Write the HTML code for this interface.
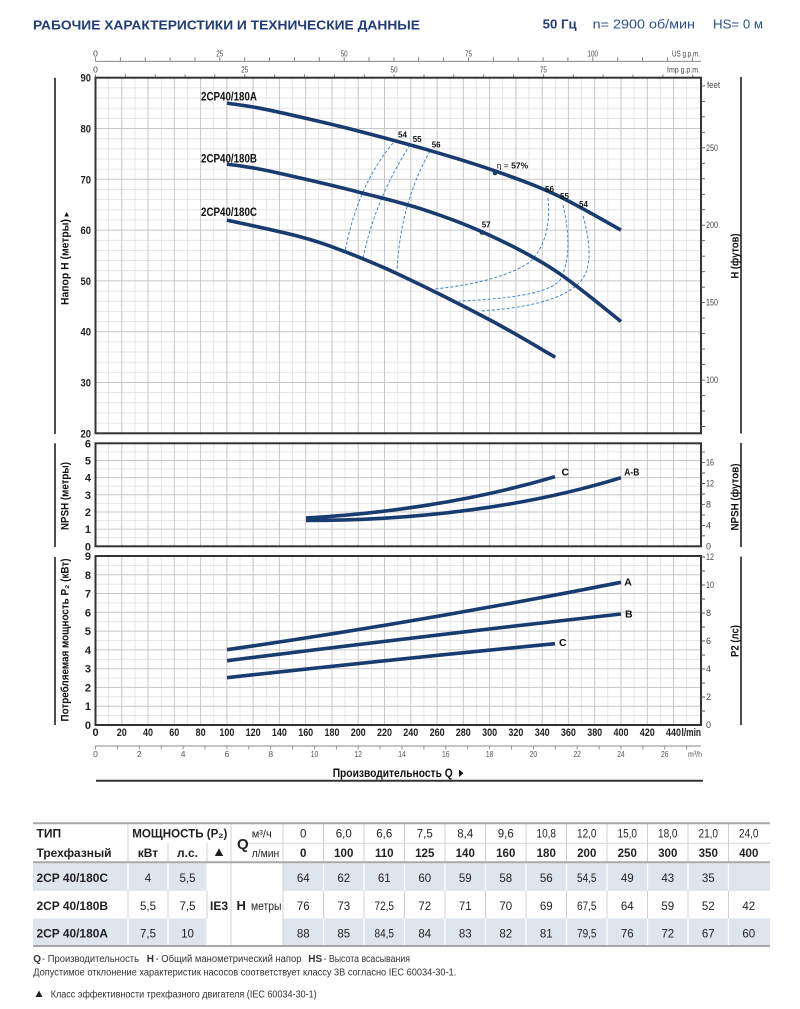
<!DOCTYPE html>
<html><head><meta charset="utf-8">
<style>
html,body{margin:0;padding:0;background:#fff;width:800px;height:1009px;overflow:hidden}
svg{display:block}
text{font-family:"Liberation Sans","DejaVu Sans",sans-serif}
.b{font-weight:bold}
</style></head>
<body>
<svg width="800" height="1009" viewBox="0 0 800 1009" xmlns="http://www.w3.org/2000/svg">
<rect x="0" y="0" width="800" height="1009" fill="#fff"/>

<!-- Header -->
<text x="33" y="29.3" font-size="12.5" class="b" fill="#1f3d7a" textLength="387" lengthAdjust="spacingAndGlyphs">РАБОЧИЕ ХАРАКТЕРИСТИКИ И ТЕХНИЧЕСКИЕ ДАННЫЕ</text>
<text x="542.7" y="28.5" font-size="12.5" class="b" fill="#1f3d7a" textLength="34" lengthAdjust="spacingAndGlyphs">50 Гц</text>
<text x="592.7" y="28.5" font-size="12.5" fill="#2b4f8f" textLength="102.3" lengthAdjust="spacingAndGlyphs">n= 2900 об/мин</text>
<text x="713" y="28.5" font-size="12.5" fill="#2b4f8f" textLength="50" lengthAdjust="spacingAndGlyphs">HS= 0 м</text>

<!-- Top axes -->
<g fill="#444" font-size="8.5" text-anchor="middle">
<text x="95.5" y="56.5">0</text><text x="219.8" y="56.5" textLength="7" lengthAdjust="spacingAndGlyphs">25</text><text x="344.2" y="56.5" textLength="7" lengthAdjust="spacingAndGlyphs">50</text><text x="468.5" y="56.5" textLength="7" lengthAdjust="spacingAndGlyphs">75</text><text x="592.8" y="56.5" textLength="10.5" lengthAdjust="spacingAndGlyphs">100</text>
<text x="95.5" y="72.3">0</text><text x="244.8" y="72.3" textLength="7" lengthAdjust="spacingAndGlyphs">25</text><text x="394.1" y="72.3" textLength="7" lengthAdjust="spacingAndGlyphs">50</text><text x="543.4" y="72.3" textLength="7" lengthAdjust="spacingAndGlyphs">75</text>
</g>
<text x="700" y="56.5" font-size="8.5" fill="#444" text-anchor="end" textLength="28" lengthAdjust="spacingAndGlyphs">US g.p.m.</text>
<text x="700" y="72.3" font-size="8.5" fill="#444" text-anchor="end" textLength="33" lengthAdjust="spacingAndGlyphs">Imp g.p.m.</text>
<path d="M95.5 61.3H701" stroke="#777" stroke-width="0.9" fill="none"/>
<path d="M95.5 57.3V61.3M120.4 57.3V61.3M145.2 57.3V61.3M170.1 57.3V61.3M195 57.3V61.3M219.8 57.3V61.3M244.7 57.3V61.3M269.6 57.3V61.3M294.4 57.3V61.3M319.3 57.3V61.3M344.2 57.3V61.3M369 57.3V61.3M393.9 57.3V61.3M418.7 57.3V61.3M443.6 57.3V61.3M468.5 57.3V61.3M493.3 57.3V61.3M518.2 57.3V61.3M543.1 57.3V61.3M567.9 57.3V61.3M592.8 57.3V61.3M617.7 57.3V61.3M642.5 57.3V61.3M667.4 57.3V61.3M692.3 57.3V61.3" stroke="#777" stroke-width="0.9" fill="none"/>
<path d="M95.5 74.3V77.7M125.4 74.3V77.7M155.2 74.3V77.7M185.1 74.3V77.7M214.9 74.3V77.7M244.8 74.3V77.7M274.7 74.3V77.7M304.5 74.3V77.7M334.4 74.3V77.7M364.3 74.3V77.7M394.1 74.3V77.7M424 74.3V77.7M453.8 74.3V77.7M483.7 74.3V77.7M513.6 74.3V77.7M543.4 74.3V77.7M573.3 74.3V77.7M603.1 74.3V77.7M633 74.3V77.7M662.9 74.3V77.7M692.7 74.3V77.7" stroke="#777" stroke-width="0.9" fill="none"/>

<!-- Grid -->
<path d="M108.6 78V725M134.9 78V725M161.2 78V725M187.5 78V725M213.7 78V725M240 78V725M266.3 78V725M292.6 78V725M318.8 78V725M345.1 78V725M371.4 78V725M397.7 78V725M423.9 78V725M450.2 78V725M476.5 78V725M502.8 78V725M529 78V725M555.3 78V725M581.6 78V725M607.8 78V725M634.1 78V725M660.4 78V725M686.7 78V725
M95.5 87.9H701M95.5 98H701M95.5 108.2H701M95.5 118.3H701M95.5 138.7H701M95.5 148.8H701M95.5 159H701M95.5 169.1H701M95.5 189.5H701M95.5 199.6H701M95.5 209.8H701M95.5 219.9H701M95.5 240.3H701M95.5 250.4H701M95.5 260.6H701M95.5 270.7H701M95.5 291.1H701M95.5 301.2H701M95.5 311.4H701M95.5 321.5H701M95.5 341.9H701M95.5 352H701M95.5 362.2H701M95.5 372.3H701M95.5 392.7H701M95.5 402.8H701M95.5 413H701M95.5 423.1H701
M95.5 451.9H701M95.5 469H701M95.5 486.2H701M95.5 503.4H701M95.5 520.6H701M95.5 537.7H701
M95.5 565.4H701M95.5 584.2H701M95.5 602.9H701M95.5 621.7H701M95.5 640.5H701M95.5 659.3H701M95.5 678.1H701M95.5 696.8H701M95.5 715.6H701" stroke="#e0e0e0" stroke-width="0.8" fill="none"/>
<path d="M121.8 78V725M148 78V725M174.3 78V725M200.6 78V725M226.9 78V725M253.1 78V725M279.4 78V725M305.7 78V725M332 78V725M358.2 78V725M384.5 78V725M410.8 78V725M437.1 78V725M463.3 78V725M489.6 78V725M515.9 78V725M542.2 78V725M568.4 78V725M594.7 78V725M621 78V725M647.3 78V725M673.5 78V725
M95.5 128.5H701M95.5 179.3H701M95.5 230.1H701M95.5 280.9H701M95.5 331.7H701M95.5 382.5H701
M95.5 460.5H701M95.5 477.6H701M95.5 494.8H701M95.5 512H701M95.5 529.1H701
M95.5 574.8H701M95.5 593.5H701M95.5 612.3H701M95.5 631.1H701M95.5 649.9H701M95.5 668.7H701M95.5 687.4H701M95.5 706.2H701" stroke="#c6c6c6" stroke-width="1" fill="none"/>
<rect x="90" y="434.4" width="616" height="7.8" fill="#fff"/>
<rect x="90" y="547.4" width="616" height="7.5" fill="#fff"/>

<!-- Efficiency dashed lines -->
<g fill="none" stroke="#3f80c2" stroke-width="0.95" stroke-dasharray="3 2">
<path d="M393,143 Q357,186.5 345,252"/>
<path d="M410,145 Q375.5,198.5 363,258"/>
<path d="M430,151 Q400.5,203.5 397,270"/>
<path d="M548,198 Q552,240 530,262 Q500,282 435,289"/>
<path d="M563,205 C570,235 570,262 560,280 C550,293 510,299 459,301"/>
<path d="M583,216 C590,240 592,265 583,278 C570,298 530,308 480,311"/>
</g>

<!-- H curves -->
<g fill="none" stroke="#183b70" stroke-width="3.6" stroke-linejoin="round">
<path d="M226.9,103.1 C232.4,104 246.6,105.7 259.7,108.2 C272.8,110.7 289.3,114.5 305.7,118.3 C322.1,122.1 338.5,125.9 358.2,131 C377.9,136.1 402.1,142.5 424,148.8 C445.9,155.2 467.7,161.5 489.6,169.1 C511.5,176.7 533.4,184.3 555.3,194.5 C577.2,204.7 610.1,224.2 621,230.1"/>
<path d="M226.9,164.1 C232.4,164.9 246.6,166.6 259.7,169.1 C272.8,171.6 289.3,175.5 305.7,179.3 C322.1,183.1 338.5,186.9 358.2,192 C377.9,197.1 402.1,202.6 424,209.8 C445.9,217 467.7,225.05 489.6,235.2 C511.5,245.4 533.4,256.3 555.3,270.7 C577.2,285.1 610.1,313 621,321.5"/>
<path d="M226.9,220.1 C239.1,222.9 280.3,231.4 300,236.7 C319.7,242 328.3,245.3 345,251.7 C361.7,258.1 375.8,263.6 400,275 C424.2,286.4 464.1,306.3 490,320 C515.9,333.7 544.4,351.1 555.3,357.3"/>
</g>
<circle cx="495" cy="173" r="2.3" fill="#183b70"/>
<circle cx="482" cy="232.5" r="2.3" fill="#183b70"/>

<!-- NPSH curves -->
<g fill="none" stroke="#183b70" stroke-width="3.6">
<path d="M306,518 C380,514 470,502 555,476.7"/>
<path d="M306,520.5 C420,520.5 530,506 621,477.7"/>
</g>
<!-- Power curves -->
<g fill="none" stroke="#183b70" stroke-width="3.6">
<path d="M227,649.7 Q420,622 621,582.3"/>
<path d="M227,660.7 Q424,636 621,614"/>
<path d="M227,677.7 Q391,659.5 555,643.7"/>
</g>

<!-- Frames -->
<g fill="none" stroke="#333" stroke-width="2">
<rect x="95.5" y="77.7" width="605.5" height="355.6"/>
<rect x="95.5" y="443.3" width="605.5" height="103"/>
<rect x="95.5" y="556" width="605.5" height="169"/>
</g>

<!-- Curve labels -->
<g class="b" fill="#111" font-size="11.5">
<text x="201" y="100.5" textLength="56" lengthAdjust="spacingAndGlyphs">2CP40/180A</text>
<text x="201" y="162.5" textLength="56" lengthAdjust="spacingAndGlyphs">2CP40/180B</text>
<text x="201" y="216" textLength="56" lengthAdjust="spacingAndGlyphs">2CP40/180C</text>
</g>
<g class="b" fill="#111" font-size="10.5">
<text x="561.5" y="475.5">C</text>
<text x="624.3" y="475.5" textLength="15" lengthAdjust="spacingAndGlyphs">A-B</text>
<text x="624.3" y="585.5">A</text>
<text x="625" y="617.5">B</text>
<text x="559" y="646">C</text>
</g>
<g class="b" fill="#111" font-size="8">
<text x="398" y="137.5">54</text>
<text x="412.7" y="142">55</text>
<text x="431.7" y="147.3">56</text>
<text x="545" y="192">56</text>
<text x="560" y="199">55</text>
<text x="579" y="207">54</text>
<text x="481.7" y="227.3">57</text>
</g>
<text x="496.7" y="168.5" font-size="8.5" fill="#111"><tspan>η = </tspan><tspan class="b">57%</tspan></text>

<!-- Left axis labels -->
<g class="b" fill="#222" font-size="11" text-anchor="end">
<text x="91" y="81.7" textLength="10.5" lengthAdjust="spacingAndGlyphs">90</text>
<text x="91" y="132.5" textLength="10.5" lengthAdjust="spacingAndGlyphs">80</text>
<text x="91" y="183.3" textLength="10.5" lengthAdjust="spacingAndGlyphs">70</text>
<text x="91" y="234.1" textLength="10.5" lengthAdjust="spacingAndGlyphs">60</text>
<text x="91" y="284.9" textLength="10.5" lengthAdjust="spacingAndGlyphs">50</text>
<text x="91" y="335.7" textLength="10.5" lengthAdjust="spacingAndGlyphs">40</text>
<text x="91" y="386.5" textLength="10.5" lengthAdjust="spacingAndGlyphs">30</text>
<text x="91" y="437.3" textLength="10.5" lengthAdjust="spacingAndGlyphs">20</text>
<text x="91" y="447.3">6</text><text x="91" y="464.5">5</text><text x="91" y="481.6">4</text><text x="91" y="498.8">3</text><text x="91" y="516">2</text><text x="91" y="533.1">1</text><text x="91" y="550.3">0</text>
<text x="91" y="560">9</text><text x="91" y="578.8">8</text><text x="91" y="597.6">7</text><text x="91" y="616.3">6</text><text x="91" y="635.1">5</text><text x="91" y="653.9">4</text><text x="91" y="672.7">3</text><text x="91" y="691.5">2</text><text x="91" y="710.2">1</text><text x="91" y="729">0</text>
</g>

<!-- Right ticks and labels -->
<path d="M701 85.9h4M701 101.4h4M701 116.8h4M701 132.3h4M701 147.8h4M701 163.3h4M701 178.8h4M701 194.3h4M701 209.7h4M701 225.2h4M701 240.7h4M701 256.2h4M701 271.7h4M701 287.2h4M701 302.6h4M701 318.1h4M701 333.6h4M701 349.1h4M701 364.6h4M701 380.1h4M701 395.6h4M701 411h4M701 426.5h4
M701 535.8h4M701 525.4h4M701 514.9h4M701 504.4h4M701 494h4M701 483.5h4M701 473h4M701 462.6h4M701 452.1h4
M701 711h4M701 697h4M701 683h4M701 669h4M701 655h4M701 641h4M701 627h4M701 613h4M701 599h4M701 585h4M701 571h4M701 557h4" stroke="#555" stroke-width="0.9" fill="none"/>
<g fill="#444" font-size="9">
<text x="707" y="88" textLength="13" lengthAdjust="spacingAndGlyphs">feet</text>
<text x="706" y="150.8" textLength="12" lengthAdjust="spacingAndGlyphs">250</text>
<text x="706" y="228.2" textLength="12" lengthAdjust="spacingAndGlyphs">200</text>
<text x="706" y="305.6" textLength="12" lengthAdjust="spacingAndGlyphs">150</text>
<text x="706" y="383.1" textLength="12" lengthAdjust="spacingAndGlyphs">100</text>
<text x="706" y="549.3">0</text><text x="706" y="528.4">4</text><text x="706" y="507.4">8</text>
<text x="706" y="486.5" textLength="8" lengthAdjust="spacingAndGlyphs">12</text>
<text x="706" y="465.6" textLength="8" lengthAdjust="spacingAndGlyphs">16</text>
<text x="706" y="728">0</text><text x="706" y="700">2</text><text x="706" y="672">4</text><text x="706" y="644">6</text><text x="706" y="616">8</text>
<text x="706" y="588" textLength="8" lengthAdjust="spacingAndGlyphs">10</text>
<text x="706" y="560" textLength="8" lengthAdjust="spacingAndGlyphs">12</text>
</g>

<!-- Side lines -->
<path d="M55 77.7V434M55 443.3V547M55 557V725M741 77V433.5M741 443V547M741 556.5V725" stroke="#222" stroke-width="1.6" fill="none"/>

<!-- Rotated axis titles -->
<g class="b" fill="#111" font-size="11" text-anchor="middle">
<text transform="translate(68.5,262) rotate(-90)" textLength="86" lengthAdjust="spacingAndGlyphs">Напор Н (метры)</text>
<text transform="translate(738.5,256) rotate(-90)" textLength="45" lengthAdjust="spacingAndGlyphs">H (футов)</text>
<text transform="translate(68.5,496) rotate(-90)" textLength="68" lengthAdjust="spacingAndGlyphs">NPSH (метры)</text>
<text transform="translate(738.5,497) rotate(-90)" textLength="67" lengthAdjust="spacingAndGlyphs">NPSH (футов)</text>
<text transform="translate(68.5,640) rotate(-90)" textLength="163" lengthAdjust="spacingAndGlyphs">Потребляемая мощность P₂ (кВт)</text>
<text transform="translate(738.5,641) rotate(-90)" textLength="32" lengthAdjust="spacingAndGlyphs">P2 (лс)</text>
</g>
<polygon points="64.3,216.5 69,216.5 66.65,212" fill="#111"/>

<!-- X axis labels -->
<g class="b" fill="#222" font-size="11" text-anchor="middle">
<text x="95.5" y="736">0</text>
<text x="121.8" y="736" textLength="10" lengthAdjust="spacingAndGlyphs">20</text>
<text x="148" y="736" textLength="10" lengthAdjust="spacingAndGlyphs">40</text>
<text x="174.3" y="736" textLength="10" lengthAdjust="spacingAndGlyphs">60</text>
<text x="200.6" y="736" textLength="10" lengthAdjust="spacingAndGlyphs">80</text>
<text x="226.9" y="736" textLength="15" lengthAdjust="spacingAndGlyphs">100</text>
<text x="253.1" y="736" textLength="15" lengthAdjust="spacingAndGlyphs">120</text>
<text x="279.4" y="736" textLength="15" lengthAdjust="spacingAndGlyphs">140</text>
<text x="305.7" y="736" textLength="15" lengthAdjust="spacingAndGlyphs">160</text>
<text x="332" y="736" textLength="15" lengthAdjust="spacingAndGlyphs">180</text>
<text x="358.2" y="736" textLength="15" lengthAdjust="spacingAndGlyphs">200</text>
<text x="384.5" y="736" textLength="15" lengthAdjust="spacingAndGlyphs">220</text>
<text x="410.8" y="736" textLength="15" lengthAdjust="spacingAndGlyphs">240</text>
<text x="437.1" y="736" textLength="15" lengthAdjust="spacingAndGlyphs">260</text>
<text x="463.3" y="736" textLength="15" lengthAdjust="spacingAndGlyphs">280</text>
<text x="489.6" y="736" textLength="15" lengthAdjust="spacingAndGlyphs">300</text>
<text x="515.9" y="736" textLength="15" lengthAdjust="spacingAndGlyphs">320</text>
<text x="542.2" y="736" textLength="15" lengthAdjust="spacingAndGlyphs">340</text>
<text x="568.4" y="736" textLength="15" lengthAdjust="spacingAndGlyphs">360</text>
<text x="594.7" y="736" textLength="15" lengthAdjust="spacingAndGlyphs">380</text>
<text x="621" y="736" textLength="15" lengthAdjust="spacingAndGlyphs">400</text>
<text x="647.3" y="736" textLength="15" lengthAdjust="spacingAndGlyphs">420</text>
<text x="673.5" y="736" textLength="15" lengthAdjust="spacingAndGlyphs">440</text>
</g>
<text x="681.5" y="736" class="b" fill="#222" font-size="11" textLength="19.5" lengthAdjust="spacingAndGlyphs">l/min</text>

<!-- m3/h axis -->
<path d="M95.5 746H701" stroke="#888" stroke-width="0.9"/>
<path d="M95.5 746v3.5M117.4 746v3.5M139.3 746v3.5M161.2 746v3.5M183.1 746v3.5M205 746v3.5M226.9 746v3.5M248.8 746v3.5M270.7 746v3.5M292.6 746v3.5M314.5 746v3.5M336.4 746v3.5M358.2 746v3.5M380.1 746v3.5M402 746v3.5M423.9 746v3.5M445.8 746v3.5M467.7 746v3.5M489.6 746v3.5M511.5 746v3.5M533.4 746v3.5M555.3 746v3.5M577.2 746v3.5M599.1 746v3.5M621 746v3.5M642.9 746v3.5M664.8 746v3.5M686.7 746v3.5" stroke="#888" stroke-width="0.9" fill="none"/>
<g fill="#555" font-size="8.5" text-anchor="middle">
<text x="95.5" y="757">0</text><text x="139.3" y="757">2</text><text x="183.1" y="757">4</text><text x="226.9" y="757">6</text><text x="270.7" y="757">8</text>
<text x="314.5" y="757" textLength="7.5" lengthAdjust="spacingAndGlyphs">10</text><text x="358.2" y="757" textLength="7.5" lengthAdjust="spacingAndGlyphs">12</text><text x="402" y="757" textLength="7.5" lengthAdjust="spacingAndGlyphs">14</text><text x="445.8" y="757" textLength="7.5" lengthAdjust="spacingAndGlyphs">16</text><text x="489.6" y="757" textLength="7.5" lengthAdjust="spacingAndGlyphs">18</text><text x="533.4" y="757" textLength="7.5" lengthAdjust="spacingAndGlyphs">20</text><text x="577.2" y="757" textLength="7.5" lengthAdjust="spacingAndGlyphs">22</text><text x="621" y="757" textLength="7.5" lengthAdjust="spacingAndGlyphs">24</text><text x="664.8" y="757" textLength="7.5" lengthAdjust="spacingAndGlyphs">26</text>
</g>
<text x="702" y="757" fill="#555" font-size="8.5" text-anchor="end" textLength="14" lengthAdjust="spacingAndGlyphs">m³/h</text>

<!-- Q title -->
<text x="332.7" y="777" class="b" fill="#111" font-size="11.5" textLength="120" lengthAdjust="spacingAndGlyphs">Производительность Q</text>
<polygon points="459,769.5 459,777 463.5,773.25" fill="#111"/>
<path d="M96 780.7H703" stroke="#333" stroke-width="2"/>

<!-- Table -->
<rect x="33" y="863.3" width="174" height="27.6" fill="#dfe5ec"/>
<rect x="283" y="863.3" width="487" height="27.6" fill="#dfe5ec"/>
<rect x="33" y="918.4" width="174" height="26.6" fill="#dfe5ec"/>
<rect x="283" y="918.4" width="487" height="26.6" fill="#dfe5ec"/>
<path d="M128 823V862M231 823V946M283 823V946M323.5 823V946M364 823V946M404.5 823V946M445 823V946M485.5 823V946M526 823V946M566.5 823V946M607 823V946M647.5 823V946M688 823V946M728.5 823V946M168 843V946M207 843V946M128 862V946" stroke="#d0d0d0" stroke-width="1" fill="none"/>
<path d="M128 863.5V890.8M168 863.5V890.8M207 863.5V890.8M323.5 863.5V890.8M364 863.5V890.8M404.5 863.5V890.8M445 863.5V890.8M485.5 863.5V890.8M526 863.5V890.8M566.5 863.5V890.8M607 863.5V890.8M647.5 863.5V890.8M688 863.5V890.8M728.5 863.5V890.8
M128 918.6V945M168 918.6V945M207 918.6V945M323.5 918.6V945M364 918.6V945M404.5 918.6V945M445 918.6V945M485.5 918.6V945M526 918.6V945M566.5 918.6V945M607 918.6V945M647.5 918.6V945M688 918.6V945M728.5 918.6V945" stroke="#fff" stroke-width="1.3" fill="none"/>
<path d="M248 843.3H770" stroke="#d6d6d6" stroke-width="1"/>
<path d="M33 823.3H770M33 862.3H770M33 946H770" stroke="#a8a8a8" stroke-width="2"/>

<g fill="#231f20" font-size="12">
<text x="36.5" y="837.5" class="b">ТИП</text>
<text x="132.3" y="837.5" class="b" textLength="95" lengthAdjust="spacingAndGlyphs">МОЩНОСТЬ (P₂)</text>
<text x="36.5" y="857" class="b" textLength="75" lengthAdjust="spacingAndGlyphs">Трехфазный</text>
<text x="148" y="857" class="b" text-anchor="middle">кВт</text>
<text x="187.5" y="857" class="b" text-anchor="middle">л.с.</text>
<text x="237" y="849" class="b" font-size="15">Q</text>
<text x="251.7" y="837.5" font-size="11">м³/ч</text>
<text x="251.7" y="857" font-size="11" textLength="27.5" lengthAdjust="spacingAndGlyphs">л/мин</text>
</g>
<polygon points="214.8,856 223.2,856 219,848.3" fill="#231f20"/>
<g fill="#231f20" font-size="11.5" text-anchor="middle">
<text x="303.25" y="837.5">0</text><text x="343.75" y="837.5">6,0</text><text x="384.25" y="837.5">6,6</text><text x="424.75" y="837.5">7,5</text><text x="465.25" y="837.5">8,4</text><text x="505.75" y="837.5">9,6</text><text x="546.25" y="837.5" textLength="19.5" lengthAdjust="spacingAndGlyphs">10,8</text><text x="586.75" y="837.5" textLength="19.5" lengthAdjust="spacingAndGlyphs">12,0</text><text x="627.25" y="837.5" textLength="19.5" lengthAdjust="spacingAndGlyphs">15,0</text><text x="667.75" y="837.5" textLength="19.5" lengthAdjust="spacingAndGlyphs">18,0</text><text x="708.25" y="837.5" textLength="19.5" lengthAdjust="spacingAndGlyphs">21,0</text><text x="748.75" y="837.5" textLength="19.5" lengthAdjust="spacingAndGlyphs">24,0</text>
</g>
<g fill="#231f20" font-size="11.5" class="b" text-anchor="middle">
<text x="303.25" y="857">0</text><text x="343.75" y="857">100</text><text x="384.25" y="857">110</text><text x="424.75" y="857">125</text><text x="465.25" y="857">140</text><text x="505.75" y="857">160</text><text x="546.25" y="857">180</text><text x="586.75" y="857">200</text><text x="627.25" y="857">250</text><text x="667.75" y="857">300</text><text x="708.25" y="857">350</text><text x="748.75" y="857">400</text>
</g>

<g fill="#231f20" font-size="12" class="b">
<text x="36.5" y="882" textLength="71.5" lengthAdjust="spacingAndGlyphs">2CP 40/180C</text>
<text x="36.5" y="910" textLength="71.5" lengthAdjust="spacingAndGlyphs">2CP 40/180B</text>
<text x="36.5" y="937.5" textLength="71.5" lengthAdjust="spacingAndGlyphs">2CP 40/180A</text>
<text x="219" y="910" text-anchor="middle">IE3</text>
<text x="236.5" y="910" font-size="13">H</text>
</g>
<text x="251" y="910" fill="#231f20" font-size="11.5" textLength="30.5" lengthAdjust="spacingAndGlyphs">метры</text>

<g fill="#231f20" font-size="11.5" text-anchor="middle">
<text x="148" y="882">4</text><text x="187.5" y="882">5,5</text>
<text x="148" y="910">5,5</text><text x="187.5" y="910">7,5</text>
<text x="148" y="937.5">7,5</text><text x="187.5" y="937.5">10</text>

<text x="303.25" y="882">64</text><text x="343.75" y="882">62</text><text x="384.25" y="882">61</text><text x="424.75" y="882">60</text><text x="465.25" y="882">59</text><text x="505.75" y="882">58</text><text x="546.25" y="882">56</text><text x="586.75" y="882" textLength="19.5" lengthAdjust="spacingAndGlyphs">54,5</text><text x="627.25" y="882">49</text><text x="667.75" y="882">43</text><text x="708.25" y="882">35</text>

<text x="303.25" y="910">76</text><text x="343.75" y="910">73</text><text x="384.25" y="910" textLength="19.5" lengthAdjust="spacingAndGlyphs">72,5</text><text x="424.75" y="910">72</text><text x="465.25" y="910">71</text><text x="505.75" y="910">70</text><text x="546.25" y="910">69</text><text x="586.75" y="910" textLength="19.5" lengthAdjust="spacingAndGlyphs">67,5</text><text x="627.25" y="910">64</text><text x="667.75" y="910">59</text><text x="708.25" y="910">52</text><text x="748.75" y="910">42</text>

<text x="303.25" y="937.5">88</text><text x="343.75" y="937.5">85</text><text x="384.25" y="937.5" textLength="19.5" lengthAdjust="spacingAndGlyphs">84,5</text><text x="424.75" y="937.5">84</text><text x="465.25" y="937.5">83</text><text x="505.75" y="937.5">82</text><text x="546.25" y="937.5">81</text><text x="586.75" y="937.5" textLength="19.5" lengthAdjust="spacingAndGlyphs">79,5</text><text x="627.25" y="937.5">76</text><text x="667.75" y="937.5">72</text><text x="708.25" y="937.5">67</text><text x="748.75" y="937.5">60</text>
</g>

<!-- Footnotes -->
<g fill="#333" font-size="10">
<text x="33.3" y="962" class="b">Q</text>
<text x="42" y="962" textLength="97" lengthAdjust="spacingAndGlyphs">- Производительность</text>
<text x="146.7" y="962" class="b">H</text>
<text x="155.5" y="962" textLength="146" lengthAdjust="spacingAndGlyphs">- Общий манометрический напор</text>
<text x="308.3" y="962" class="b">HS</text>
<text x="323.5" y="962" textLength="86.5" lengthAdjust="spacingAndGlyphs">- Высота всасывания</text>
<text x="33.3" y="975.5" textLength="423" lengthAdjust="spacingAndGlyphs">Допустимое отклонение характеристик насосов соответствует классу 3B согласно IEC 60034-30-1.</text>
<text x="50.7" y="997.5" textLength="266" lengthAdjust="spacingAndGlyphs">Класс эффективности трехфазного двигателя (IEC 60034-30-1)</text>
</g>
<polygon points="35.5,997 42.5,997 39,990.5" fill="#222"/>
</svg>
</body></html>
